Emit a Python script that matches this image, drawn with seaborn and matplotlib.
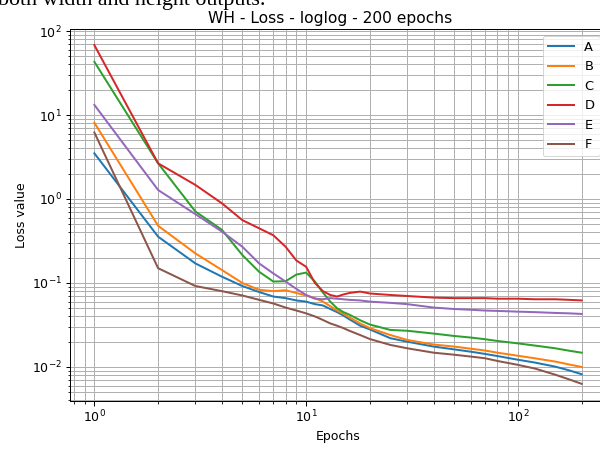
import matplotlib
matplotlib.use("Agg")
import matplotlib.pyplot as plt
import seaborn as sns
import pandas as pd

epochs = [1, 2, 3, 4, 5, 6, 7, 8, 9, 10, 11, 12, 13, 14, 15, 16, 18, 20, 25, 30,
          40, 50, 60, 70, 80, 100, 120, 150, 175, 200]

loss_A = [3.5, 0.356, 0.171, 0.119, 0.092, 0.078, 0.069, 0.066, 0.062, 0.060,
          0.056, 0.054, 0.049, 0.045, 0.041, 0.037, 0.031, 0.028, 0.022, 0.020,
          0.0175, 0.0162, 0.0152, 0.0143, 0.0135, 0.0122, 0.0113, 0.0101, 0.0091, 0.0082]
loss_B = [8.1, 0.48, 0.225, 0.143, 0.100, 0.083, 0.080, 0.082, 0.076, 0.071,
          0.066, 0.060, 0.053, 0.047, 0.043, 0.039, 0.033, 0.029, 0.024, 0.021,
          0.0185, 0.0175, 0.0165, 0.0157, 0.0148, 0.0136, 0.0127, 0.0116, 0.0107, 0.0100]
loss_C = [43.0, 2.66, 0.71, 0.43, 0.215, 0.136, 0.104, 0.105, 0.126, 0.133,
          0.104, 0.077, 0.060, 0.050, 0.045, 0.042, 0.036, 0.032, 0.0276, 0.027,
          0.025, 0.0234, 0.0224, 0.0214, 0.0204, 0.0191, 0.0180, 0.0167, 0.0156, 0.0148]
loss_D = [68.0, 2.66, 1.47, 0.89, 0.56, 0.448, 0.37, 0.27, 0.185, 0.156,
          0.100, 0.080, 0.072, 0.069, 0.073, 0.076, 0.079, 0.075, 0.072, 0.070,
          0.067, 0.066, 0.066, 0.066, 0.065, 0.065, 0.064, 0.064, 0.063, 0.062]
loss_E = [13.2, 1.28, 0.66, 0.41, 0.27, 0.171, 0.130, 0.104, 0.085, 0.072,
          0.065, 0.064, 0.066, 0.065, 0.064, 0.063, 0.062, 0.060, 0.058, 0.056,
          0.051, 0.049, 0.048, 0.047, 0.0465, 0.0456, 0.045, 0.044, 0.0435, 0.0428]
loss_F = [6.2, 0.150, 0.092, 0.080, 0.071, 0.063, 0.057, 0.051, 0.047, 0.0435,
          0.040, 0.0363, 0.033, 0.031, 0.029, 0.027, 0.024, 0.0215, 0.0183, 0.0167,
          0.0148, 0.0140, 0.0133, 0.0127, 0.0118, 0.0106, 0.0096, 0.0081, 0.0071, 0.0063]

series_names = ["A", "B", "C", "D", "E", "F"]
series_values = [loss_A, loss_B, loss_C, loss_D, loss_E, loss_F]

rows = []
for name, vals in zip(series_names, series_values):
    for e, v in zip(epochs, vals):
        rows.append({"Epochs": e, "Loss value": v, "series": name})
df = pd.DataFrame(rows)

W, H, DPI = 600, 453, 72
fig = plt.figure(figsize=(W / DPI, H / DPI), dpi=DPI)
ax = fig.add_axes([70 / W, (H - 401) / H, 536 / W, 372 / H])

sns.lineplot(data=df, x="Epochs", y="Loss value", hue="series",
             palette=sns.color_palette("tab10", 6), linewidth=2.0, ax=ax)
ax.set_xscale("log")
ax.set_yscale("log")
ax.set_xlim(10 ** -0.115, 10 ** 2.416)
ax.set_ylim(10 ** -2.405, 10 ** 2.024)
ax.grid(True, which="both", color="#b0b0b0", linewidth=1.0)
ax.set_axisbelow(True)
ax.set_title("WH - Loss - loglog - 200 epochs", fontsize=15.5, x=0.485)
ax.set_xlabel("Epochs", fontsize=12.5)
ax.set_ylabel("Loss value", fontsize=12.5)
ax.tick_params(labelsize=12.5)
ax.tick_params(which="major", length=4.5, width=1.0)
ax.tick_params(which="minor", length=2.5, width=0.8)
for sp in ax.spines.values():
    sp.set_linewidth(1.0)

handles, labels = ax.get_legend_handles_labels()
ax.legend(handles, labels, loc="upper right", fontsize=13)

fig.text(-0.003, (H - 5) / H, "both width and height outputs.",
         family="Liberation Serif", fontsize=22, va="baseline", ha="left")

fig.savefig("out.png", dpi=DPI)
